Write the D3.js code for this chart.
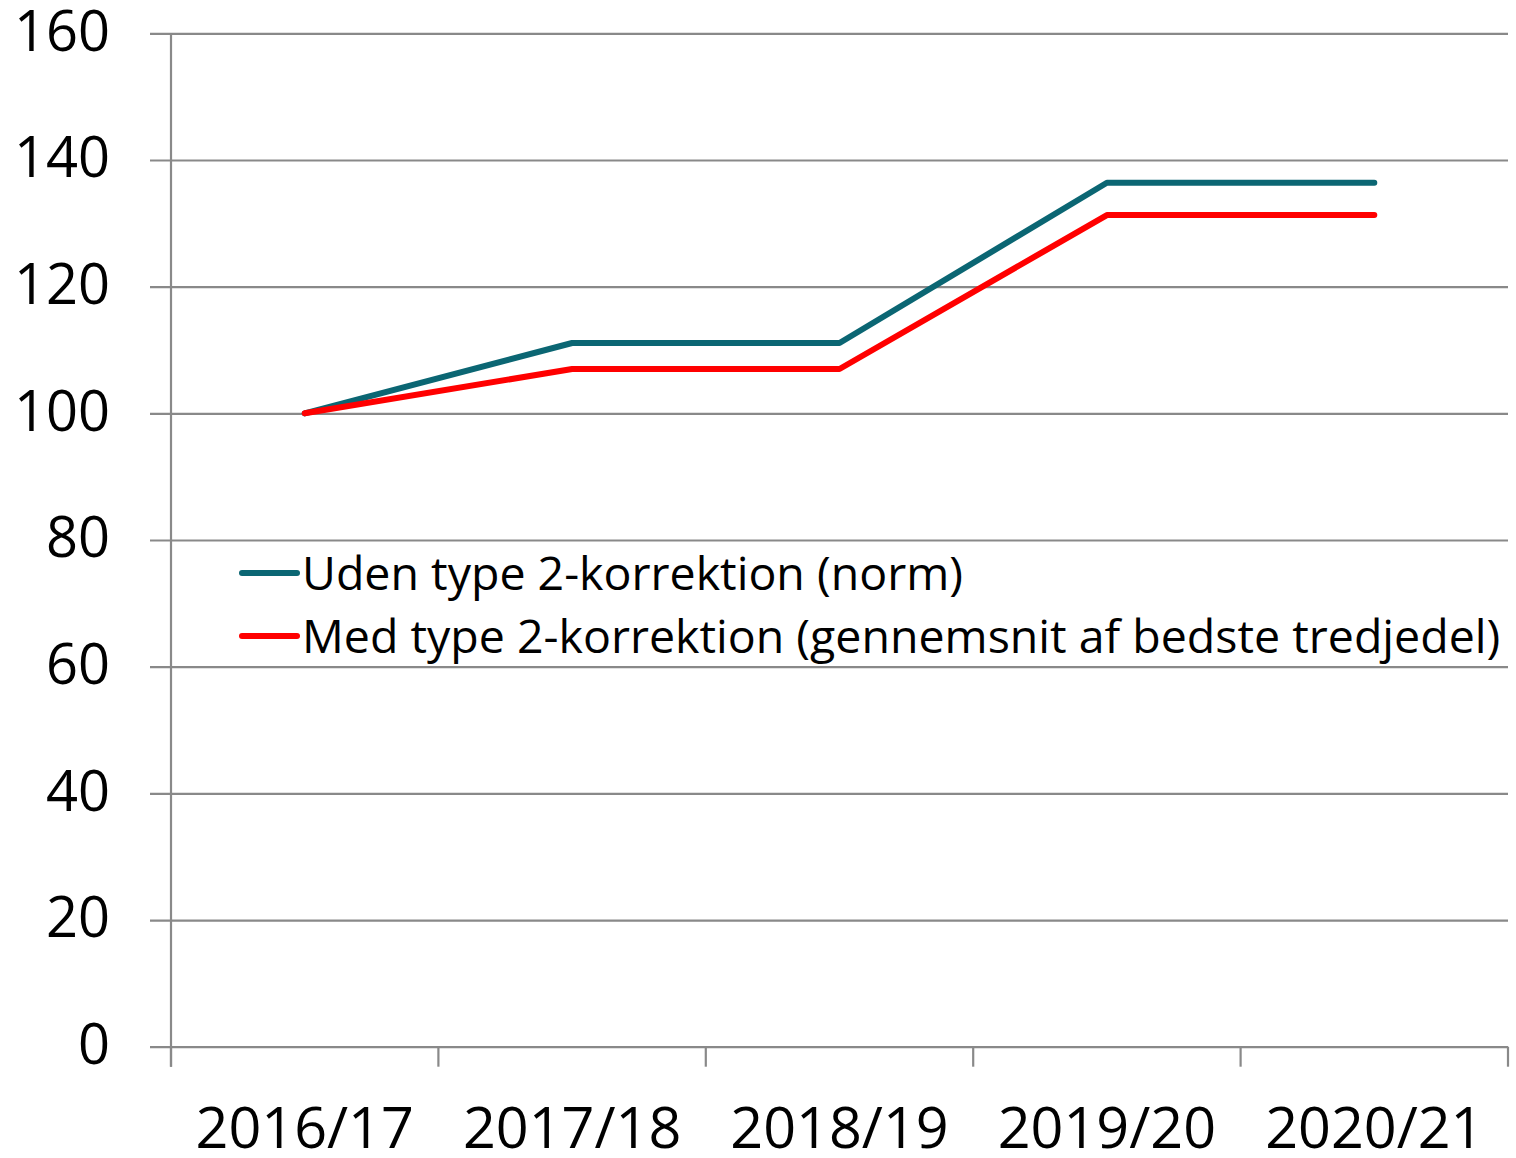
<!DOCTYPE html>
<html>
<head>
<meta charset="utf-8">
<script src="https://cdn.jsdelivr.net/npm/d3@7"></script>
<style>
  body { margin: 0; background: #fff; }
  svg { display: block; font-family: "Open Sans", sans-serif; }
</style>
</head>
<body>
<svg width="1516" height="1158"></svg>
<script>
// data
var seasons = ["2016/17", "2017/18", "2018/19", "2019/20", "2020/21"];
var udenKorrektion = [100, 111.1, 111.1, 136.4, 136.4];
var medKorrektion = [100, 107, 107, 131.3, 131.3];
var seriesNames = ["Uden type 2-korrektion (norm)", "Med type 2-korrektion (gennemsnit af bedste tredjedel)"];
var seriesColors = ["#0b6673", "#ff0000"];
var yTicks = [0, 20, 40, 60, 80, 100, 120, 140, 160];

var svg = d3.select("svg");
var plotLeft = 171, plotRight = 1508, plotTop = 33.3, plotBottom = 1046.7;

var x = d3.scaleBand().domain(seasons).range([plotLeft, plotRight]);
var y = d3.scaleLinear().domain([0, 160]).range([plotBottom, plotTop]);

var gridColor = "#898989";

// gridlines + y labels (axis placed at right edge so ticks run leftwards)
var yAxis = svg.append("g")
    .attr("transform", "translate(" + plotRight + ",0)")
    .call(d3.axisLeft(y).tickValues(yTicks).tickSize(plotRight - 150).tickPadding(40));
yAxis.select(".domain").remove();
yAxis.selectAll("line").attr("stroke", gridColor).attr("stroke-width", 2.2);
yAxis.selectAll("text")
    .attr("font-size", 56)
    .attr("font-family", "Open Sans, sans-serif")
    .attr("fill", "#000")
    .attr("dy", "0.3em");

// y axis line
svg.append("line")
    .attr("x1", plotLeft).attr("x2", plotLeft)
    .attr("y1", plotTop).attr("y2", plotBottom + 20)
    .attr("stroke", gridColor).attr("stroke-width", 2.2);

// x axis category boundary ticks
var bounds = d3.range(seasons.length + 1).map(function(i) { return plotLeft + i * x.step(); });
svg.append("g").selectAll("line")
    .data(bounds)
    .enter().append("line")
    .attr("x1", function(d) { return d; })
    .attr("x2", function(d) { return d; })
    .attr("y1", plotBottom)
    .attr("y2", plotBottom + 20)
    .attr("stroke", gridColor).attr("stroke-width", 2.2);

// x labels
var xAxis = svg.append("g")
    .attr("transform", "translate(0," + plotBottom + ")")
    .call(d3.axisBottom(x).tickSize(0).tickPadding(60));
xAxis.select(".domain").remove();
xAxis.selectAll("text")
    .attr("font-size", 57.5)
    .attr("font-family", "Open Sans, sans-serif")
    .attr("fill", "#000");

// lines
var line = d3.line()
    .x(function(d, i) { return x(seasons[i]) + x.bandwidth() / 2; })
    .y(function(d) { return y(d); });

[udenKorrektion, medKorrektion].forEach(function(s, i) {
  svg.append("path")
      .datum(s)
      .attr("d", line)
      .attr("fill", "none")
      .attr("stroke", seriesColors[i])
      .attr("stroke-width", 6)
      .attr("stroke-linecap", "round")
      .attr("stroke-linejoin", "round");
});

// legend
var legend = svg.append("g").selectAll("g")
    .data(seriesNames)
    .enter().append("g")
    .attr("transform", function(d, i) { return "translate(242," + (573 + i * 63) + ")"; });
legend.append("line")
    .attr("x1", 0).attr("x2", 55)
    .attr("stroke", function(d, i) { return seriesColors[i]; })
    .attr("stroke-width", 6)
    .attr("stroke-linecap", "round");
legend.append("text")
    .attr("x", 60)
    .attr("dy", "0.36em")
    .attr("font-size", 46.5)
    .text(function(d) { return d; });
</script>
</body>
</html>
